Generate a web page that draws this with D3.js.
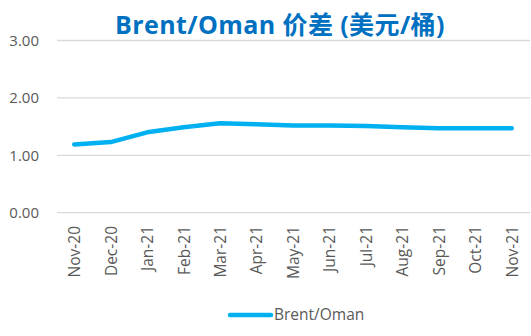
<!DOCTYPE html>
<html>
<head>
<meta charset="utf-8">
<script src="https://cdn.jsdelivr.net/npm/d3@7"></script>
<style>
  body { margin: 0; background: #fff; }
  svg { display: block; }
  svg text { font-family: "Open Sans", "Noto Sans CJK SC", sans-serif; }
</style>
</head>
<body>
<svg id="chart"></svg>
<script>
const months = ["Nov-20", "Dec-20", "Jan-21", "Feb-21", "Mar-21", "Apr-21", "May-21",
    "Jun-21", "Jul-21", "Aug-21", "Sep-21", "Oct-21", "Nov-21"];
const spread = [1.19, 1.23, 1.40, 1.49, 1.56, 1.54, 1.52, 1.52, 1.51, 1.49, 1.47, 1.47, 1.47];
const yTicks = [0, 1, 2, 3];
const seriesName = "Brent/Oman";
const titleText = "Brent/Oman 价差 (美元/桶)";

(function () {
    const width = 531, height = 336;
    const lineColor = "#00B0F0";

    const svg = d3.select("#chart")
        .attr("width", width)
        .attr("height", height);

    const x = d3.scalePoint()
        .domain(months)
        .range([56, 530])
        .padding(0.5);

    const y = d3.scaleLinear()
        .domain([0, 3])
        .range([212.7, 40.5]);

    // gridlines
    svg.append("g")
        .selectAll("line")
        .data(yTicks)
        .enter()
        .append("line")
        .attr("x1", 57)
        .attr("x2", 530)
        .attr("y1", d => y(d))
        .attr("y2", d => y(d))
        .attr("stroke", "#d9d9d9")
        .attr("stroke-width", 1.3);

    // y axis labels
    const yAxis = svg.append("g")
        .attr("transform", "translate(45,0)")
        .call(d3.axisLeft(y).tickValues(yTicks).tickFormat(d3.format(".2f")).tickSize(0).tickPadding(6));
    yAxis.select(".domain").remove();
    yAxis.selectAll("text")
        .attr("fill", "#595959")
        .style("font-size", "15px");

    // x axis labels
    const xAxis = svg.append("g")
        .attr("transform", "translate(0,213)")
        .call(d3.axisBottom(x).tickSize(0));
    xAxis.select(".domain").remove();
    xAxis.selectAll("text")
        .attr("fill", "#595959")
        .style("font-size", "15.5px")
        .attr("transform", "rotate(-90)")
        .attr("text-anchor", "end")
        .attr("x", -13)
        .attr("y", 0)
        .attr("dy", "0.35em");

    // line
    const line = d3.line()
        .x((d, i) => x(months[i]))
        .y(d => y(d));

    svg.append("path")
        .datum(spread)
        .attr("d", line)
        .attr("fill", "none")
        .attr("stroke", lineColor)
        .attr("stroke-width", 4.5)
        .attr("stroke-linecap", "round")
        .attr("stroke-linejoin", "round");

    // title
    svg.append("text")
        .attr("x", 280)
        .attr("y", 34)
        .attr("text-anchor", "middle")
        .attr("fill", "#0070C0")
        .style("font-weight", "bold")
        .style("font-size", "25px")
        .style("letter-spacing", "0.4px")
        .text(titleText);

    // legend
    svg.append("line")
        .attr("x1", 230)
        .attr("x2", 271)
        .attr("y1", 315)
        .attr("y2", 315)
        .attr("stroke", lineColor)
        .attr("stroke-width", 4.5)
        .attr("stroke-linecap", "round");
    svg.append("text")
        .attr("x", 274)
        .attr("y", 320)
        .attr("fill", "#595959")
        .style("font-size", "15.5px")
        .text(seriesName);
})();
</script>
</body>
</html>
